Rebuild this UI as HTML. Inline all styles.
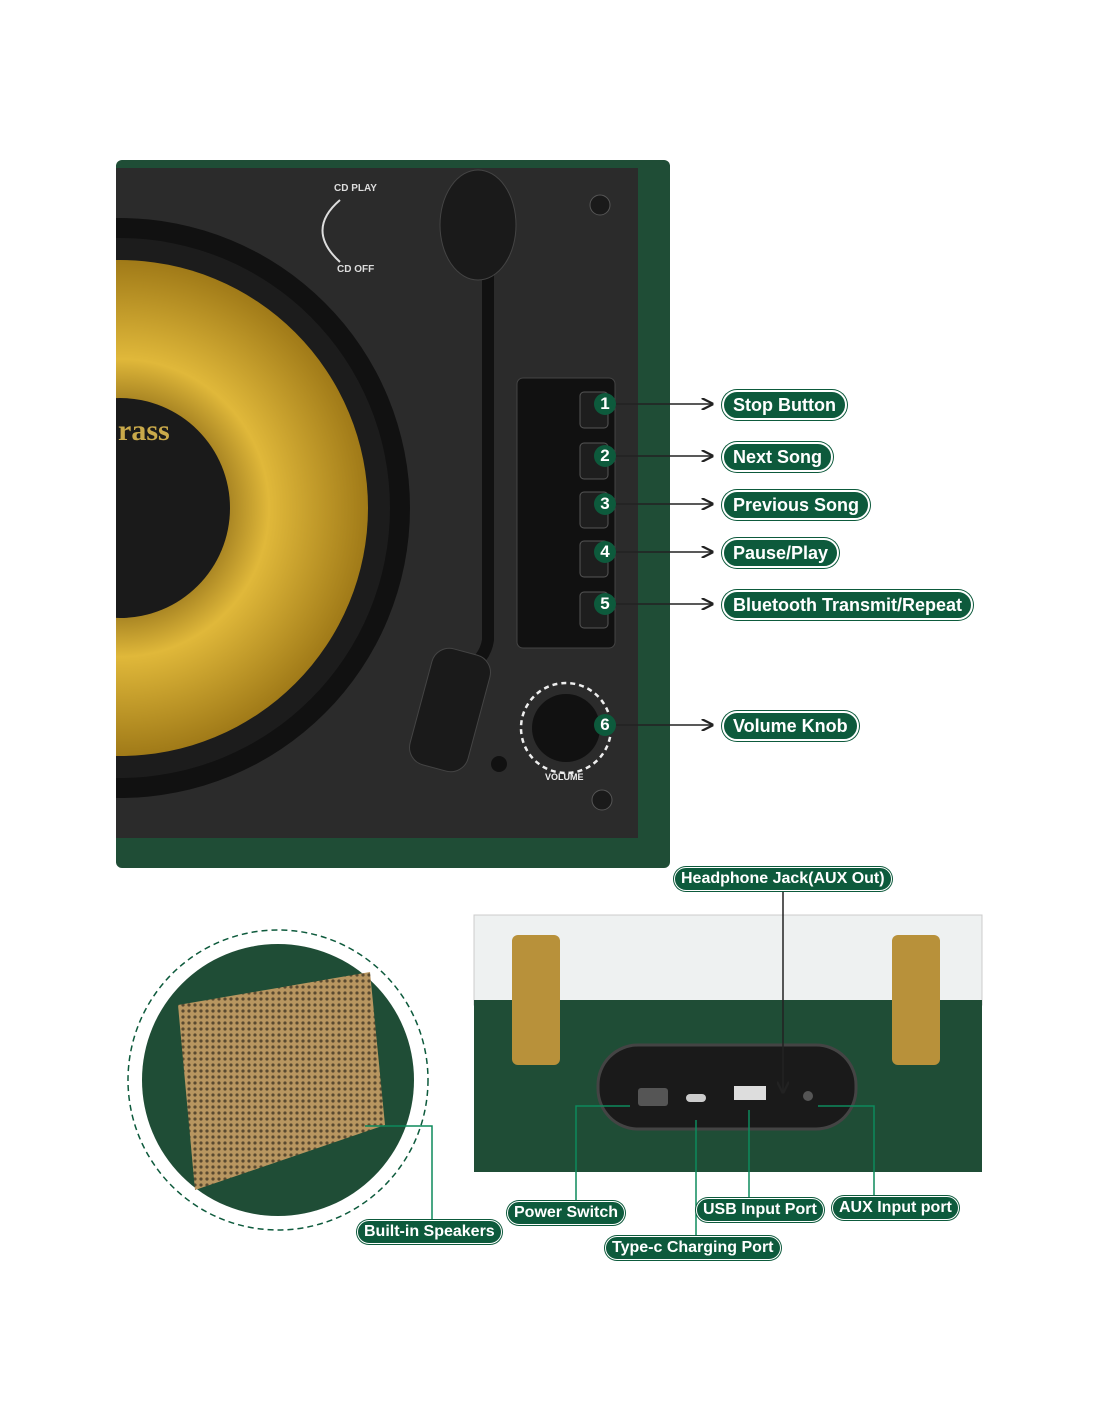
<!DOCTYPE html>
<html><head><meta charset="utf-8"><style>
body{margin:0;width:1100px;height:1422px;background:#fff;position:relative;overflow:hidden;font-family:"Liberation Sans",sans-serif}
.pill{position:absolute;background:#0d5a3c;color:#fff;font-weight:bold;border:2px solid #fff;box-shadow:0 0 0 1px #0d5a3c;border-radius:16px;padding:0 9px;height:26px;line-height:26px;font-size:18px;white-space:nowrap}
.spill{position:absolute;background:#0d5a3c;color:#fff;font-weight:bold;border:1.5px solid #fff;box-shadow:0 0 0 1px #0d5a3c;border-radius:12px;padding:0 6px;height:22px;line-height:22px;font-size:16px;white-space:nowrap}
.num{position:absolute;width:22px;height:22px;border-radius:50%;background:#0d5a3c;color:#fff;font-weight:bold;font-size:17px;text-align:center;line-height:22px}
</style></head><body>
<svg width="1100" height="1422" style="position:absolute;left:0;top:0">
<defs>
<radialGradient id="g" cx="0.5" cy="0.5" r="0.5"><stop offset="0.3" stop-color="#7a5a10"/><stop offset="0.6" stop-color="#e0b83a"/><stop offset="1" stop-color="#a07a18"/></radialGradient>
<clipPath id="c"><rect x="116" y="168" width="522" height="670"/></clipPath>
<pattern id="m" width="6" height="6" patternUnits="userSpaceOnUse"><rect width="6" height="6" fill="#b89660"/><circle cx="3" cy="3" r="1.6" fill="#5a4a30"/></pattern>
<marker id="a" markerWidth="8" markerHeight="8" refX="7" refY="4" orient="auto"><path d="M0,0L8,4L0,8" fill="none" stroke="#222" stroke-width="1.5"/></marker>
</defs>
<rect x="116" y="160" width="554" height="708" rx="6" fill="#1f4d36"/>
<rect x="116" y="168" width="522" height="670" fill="#2b2b2b"/>
<g clip-path="url(#c)">
<circle cx="120" cy="508" r="290" fill="#111"/>
<circle cx="120" cy="508" r="270" fill="#1c1c1c"/>
<circle cx="120" cy="508" r="248" fill="url(#g)"/>
<circle cx="120" cy="508" r="110" fill="#1a1a1a"/>
<text x="118" y="440" fill="#c9a94a" font-size="30" font-weight="bold" font-family="Liberation Serif">rass</text>
</g>
<text x="334" y="191" fill="#ddd" font-size="10" font-weight="bold">CD PLAY</text>
<text x="337" y="272" fill="#ddd" font-size="10" font-weight="bold">CD OFF</text>
<path d="M340,200 Q305,230 340,262" fill="none" stroke="#ddd" stroke-width="2"/>
<path d="M488,270 L488,640 Q485,660 465,670" fill="none" stroke="#111" stroke-width="12"/>
<ellipse cx="478" cy="225" rx="38" ry="55" fill="#1a1a1a" stroke="#444"/>
<rect x="420" y="650" width="60" height="120" rx="18" transform="rotate(15 450 710)" fill="#1a1a1a" stroke="#444"/>
<rect x="517" y="378" width="98" height="270" rx="6" fill="#111" stroke="#444"/>
<g fill="#1e1e1e" stroke="#555"><rect x="580" y="392" width="28" height="36" rx="4"/><rect x="580" y="443" width="28" height="36" rx="4"/><rect x="580" y="492" width="28" height="36" rx="4"/><rect x="580" y="541" width="28" height="36" rx="4"/><rect x="580" y="592" width="28" height="36" rx="4"/></g>
<circle cx="566" cy="728" r="45" fill="none" stroke="#eee" stroke-width="2.5" stroke-dasharray="5 4"/>
<circle cx="566" cy="728" r="34" fill="#111"/>
<text x="545" y="780" fill="#eee" font-size="9" font-weight="bold">VOLUME</text>
<circle cx="600" cy="205" r="10" fill="#1a1a1a" stroke="#555"/><circle cx="602" cy="800" r="10" fill="#1a1a1a" stroke="#555"/><circle cx="499" cy="764" r="8" fill="#111"/>
<g stroke="#222" stroke-width="1.5" marker-end="url(#a)"><line x1="616" y1="404" x2="712" y2="404"/><line x1="616" y1="456" x2="712" y2="456"/><line x1="616" y1="504" x2="712" y2="504"/><line x1="616" y1="552" x2="712" y2="552"/><line x1="616" y1="604" x2="712" y2="604"/><line x1="616" y1="725" x2="712" y2="725"/></g>
<circle cx="278" cy="1080" r="150" fill="#fff" stroke="#0d5a3c" stroke-width="1.5" stroke-dasharray="6 4"/>
<circle cx="278" cy="1080" r="136" fill="#1f4d36"/>
<path d="M178,1005 L370,972 L385,1125 L195,1190 Z" fill="url(#m)"/>
<rect x="474" y="915" width="508" height="90" fill="#eef1f1" stroke="#ccc"/>
<rect x="474" y="1000" width="508" height="172" fill="#1f4d36"/>
<g fill="#b8913a"><rect x="512" y="935" width="48" height="130" rx="6"/><rect x="892" y="935" width="48" height="130" rx="6"/></g>
<rect x="598" y="1045" width="258" height="84" rx="40" fill="#1a1a1a" stroke="#444" stroke-width="3"/>
<rect x="638" y="1088" width="30" height="18" rx="3" fill="#555"/>
<rect x="686" y="1094" width="20" height="8" rx="4" fill="#ccc"/>
<rect x="734" y="1086" width="32" height="14" fill="#ddd"/>
<circle cx="808" cy="1096" r="5" fill="#555"/>
<g stroke="#0d8a5c" stroke-width="1.5" fill="none">
<polyline points="365,1126 432,1126 432,1220"/>
<polyline points="630,1106 576,1106 576,1200"/>
<polyline points="696,1120 696,1236"/>
<polyline points="749,1110 749,1198"/>
<polyline points="818,1106 874,1106 874,1196"/>
</g>
<line x1="783" y1="892" x2="783" y2="1092" stroke="#222" stroke-width="1.5" marker-end="url(#a)"/>
</svg>
<div class="num" style="left:594px;top:393px">1</div><div class="num" style="left:594px;top:445px">2</div><div class="num" style="left:594px;top:493px">3</div><div class="num" style="left:594px;top:541px">4</div><div class="num" style="left:594px;top:593px">5</div><div class="num" style="left:594px;top:714px">6</div>
<div class="pill" style="left:722px;top:390px">Stop Button</div>
<div class="pill" style="left:722px;top:442px">Next Song</div>
<div class="pill" style="left:722px;top:490px">Previous Song</div>
<div class="pill" style="left:722px;top:538px">Pause/Play</div>
<div class="pill" style="left:722px;top:590px">Bluetooth Transmit/Repeat</div>
<div class="pill" style="left:722px;top:711px">Volume Knob</div>
<div class="spill" style="left:674px;top:867px">Headphone Jack(AUX Out)</div>
<div class="spill" style="left:357px;top:1220px">Built-in Speakers</div>
<div class="spill" style="left:507px;top:1201px">Power Switch</div>
<div class="spill" style="left:696px;top:1198px">USB Input Port</div>
<div class="spill" style="left:832px;top:1196px">AUX Input port</div>
<div class="spill" style="left:605px;top:1236px">Type-c Charging Port</div>
</body></html>
